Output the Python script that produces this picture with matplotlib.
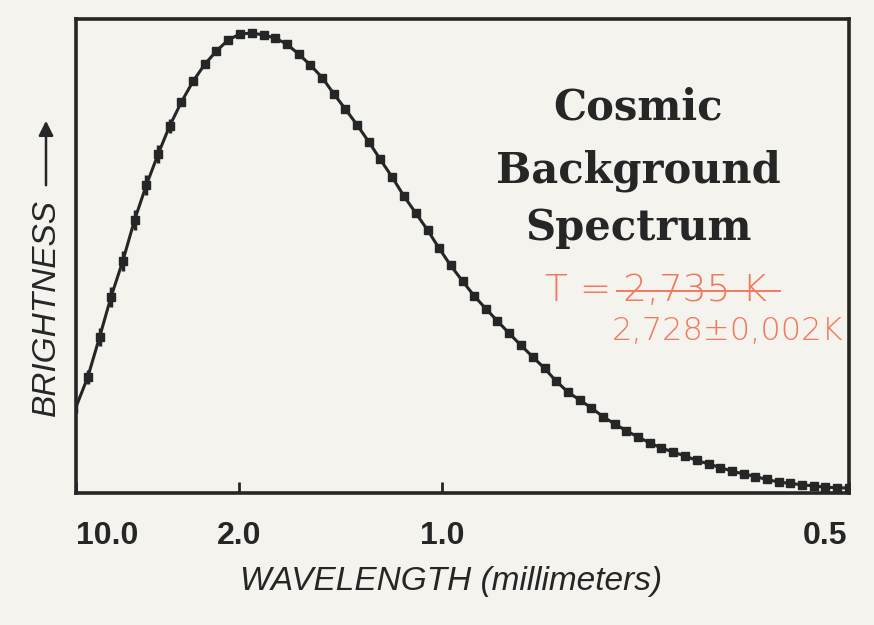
import matplotlib.pyplot as plt
import matplotlib.transforms as mtransforms

# Wellenzahl der Messpunkte (cm^-1), entspricht 10 mm ... 0.5 mm
wavenumber = [1.00, 1.29, 1.58, 1.86, 2.15, 2.44, 2.73, 3.02, 3.30, 3.59,
              3.88, 4.17, 4.45, 4.74, 5.03, 5.32, 5.61, 5.89, 6.18, 6.47,
              6.76, 7.05, 7.33, 7.62, 7.91, 8.20, 8.48, 8.77, 9.06, 9.35,
              9.64, 9.92, 10.21, 10.50, 10.79, 11.08, 11.36, 11.65, 11.94, 12.23,
              12.52, 12.80, 13.09, 13.38, 13.67, 13.95, 14.24, 14.53, 14.82, 15.11,
              15.39, 15.68, 15.97, 16.26, 16.55, 16.83, 17.12, 17.41, 17.70, 17.98,
              18.27, 18.56, 18.85, 19.14, 19.42, 19.71, 20.00]

# Helligkeit (willkürliche Einheiten)
brightness = [70.5, 95.1, 127.9, 160.7, 190.2, 223.9, 252.6, 278.0, 300.9, 320.6,
              337.8, 351.8, 362.4, 371.5, 376.4, 377.2, 375.6, 373.1, 368.2, 360.0,
              351.0, 340.7, 327.6, 314.9, 301.8, 287.8, 273.5, 259.1, 243.5, 229.6,
              215.7, 200.9, 186.6, 173.8, 161.5, 150.9, 141.0, 130.8, 121.0, 111.5,
              102.1, 91.8, 82.8, 76.3, 69.7, 62.7, 56.6, 51.0, 45.8, 41.0,
              36.9, 33.6, 30.3, 26.7, 23.8, 20.9, 18.0, 15.6, 13.5, 11.1,
              9.0, 7.8, 6.8, 5.7, 4.8, 4.3, 4.1]

# Fehlerbalken der ersten (langwelligen) Punkte
brightness_err = [5, 6, 7, 8, 8, 8, 8, 7, 6]

# Achsenbeschriftung: Wellenlänge in mm an den Positionen der Wellenzahl
tick_pos = [1.0, 5.0, 10.0, 20.0]
tick_labels = ['10.0', '2.0', '1.0', '0.5']

ink = '#262626'
paper = '#f4f3ee'
red = '#f07a5f'

fig = plt.figure(figsize=(8.74, 6.25), dpi=100, facecolor=paper)
ax = fig.add_axes([76/874, 1 - 493/625, 773/874, 474/625], facecolor=paper)

# Kurve und Messpunkte
ax.plot(wavenumber, brightness, color=ink, lw=2.2, zorder=2)
ax.plot(wavenumber[1:], brightness[1:], 's', ms=6, color=ink, zorder=3)
n_err = len(brightness_err)
ax.errorbar(wavenumber[:n_err], brightness[:n_err], yerr=brightness_err,
            fmt='none', ecolor=ink, elinewidth=2.5, capsize=0, zorder=3)

ax.set_xlim(1.0, 20.0)
ax.set_ylim(0, 388.7)

for s in ax.spines.values():
    s.set_linewidth(2.6)
    s.set_color(ink)

ax.set_yticks([])
ax.set_xticks(tick_pos)
ax.set_xticklabels(tick_labels, fontsize=23, family='Liberation Sans',
                   fontweight='bold', color=ink)
ax.tick_params(axis='x', direction='in', length=8, width=2, color=ink, pad=20)
# "10.0" steht etwas rechts vom linken Rand, "0.5" endet am rechten Rand
labs = ax.get_xticklabels()
labs[0].set_transform(labs[0].get_transform() +
                      mtransforms.ScaledTranslation(31/100, 0, fig.dpi_scale_trans))
labs[-1].set_transform(labs[-1].get_transform() +
                       mtransforms.ScaledTranslation(-24/100, 0, fig.dpi_scale_trans))

ax.set_xlabel('WAVELENGTH (millimeters)', fontsize=24, style='italic',
              family='Liberation Sans', color=ink, labelpad=10)
ax.xaxis.set_label_coords((451 - 76)/773, -0.155)

# y-Beschriftung mit Pfeil
fig.text(46/874, 1 - 308/625, 'BRIGHTNESS', rotation=90, fontsize=24, style='italic',
         family='Liberation Sans', color=ink, ha='center', va='center')
ax.annotate('', xy=(46/874, 1 - 118/625), xytext=(46/874, 1 - 188/625),
            xycoords='figure fraction', textcoords='figure fraction',
            arrowprops=dict(arrowstyle='-|>', lw=1.8, color=ink, mutation_scale=22))

# Titel im Diagramm
for txt, yb in [('Cosmic', 120), ('Background', 183), ('Spectrum', 240)]:
    ax.text((638 - 76)/773, (493 - yb)/474, txt, transform=ax.transAxes,
            ha='center', va='baseline', fontsize=30, fontweight='bold',
            family='DejaVu Serif', color=ink)

# handschriftliche Korrektur (rot)
ax.text((545 - 76)/773, (493 - 301)/474, 'T = 2,735 K', transform=ax.transAxes,
        ha='left', va='baseline', fontsize=27, color=red, family='DejaVu Sans',
        fontweight='light')
ax.plot([(617 - 76)/773, (780 - 76)/773], [(493 - 291)/474]*2, transform=ax.transAxes,
        color=red, lw=1.4)
ax.text((612 - 76)/773, (493 - 340)/474, '2,728±0,002K', transform=ax.transAxes,
        ha='left', va='baseline', fontsize=23, color=red, family='DejaVu Sans',
        fontweight='light')

fig.savefig('out.png', dpi=100, facecolor=paper)
